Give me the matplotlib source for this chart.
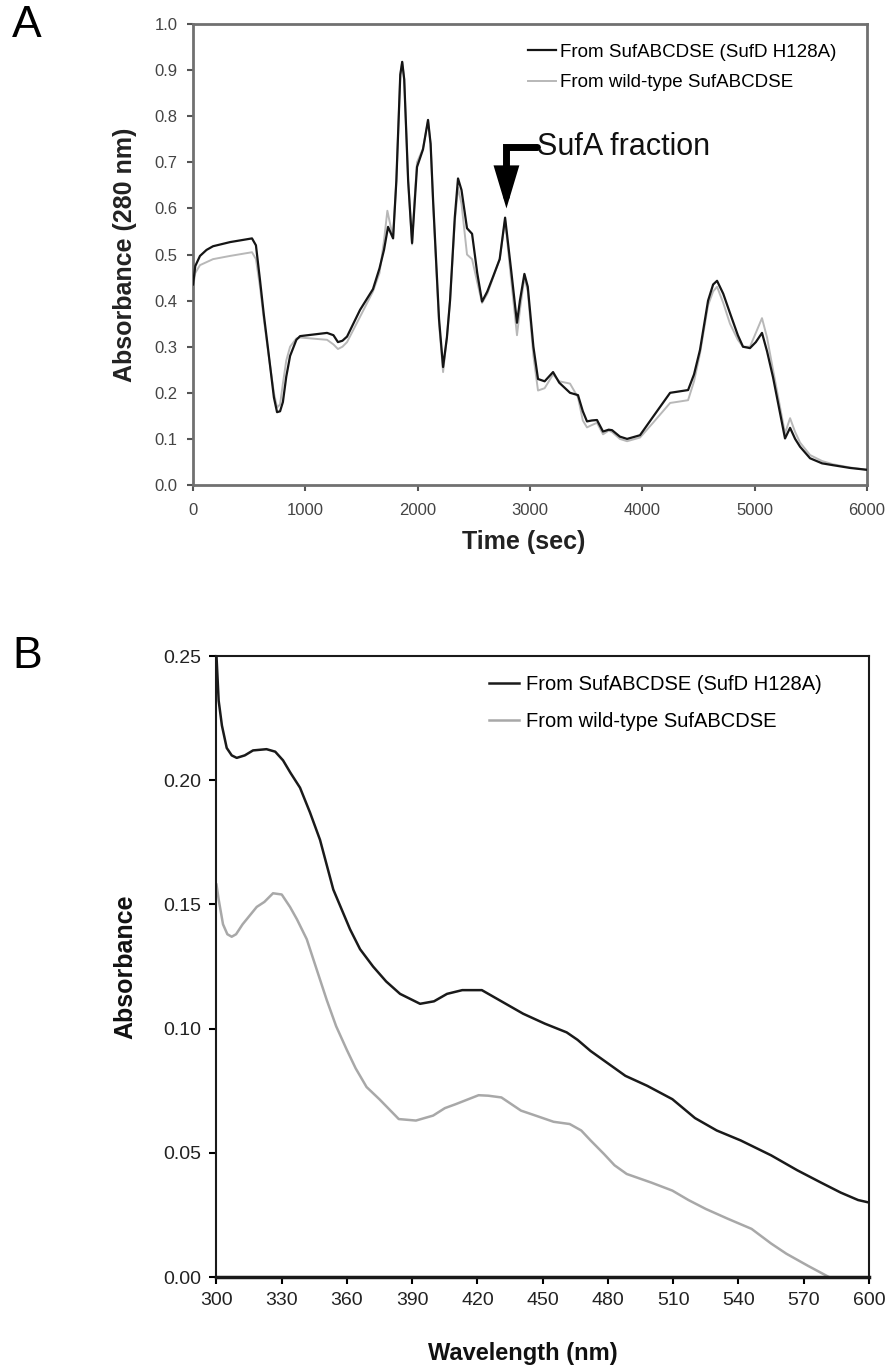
import matplotlib
matplotlib.use("Agg")
import matplotlib.pyplot as plt
from matplotlib.ticker import FormatStrFormatter

plt.rcParams['font.family'] = ['Liberation Sans', 'DejaVu Sans']

# panel A: elution profile, absorbance at 280 nm
time_mut = [0, 20, 62, 120, 178, 330, 525, 560, 596, 630, 668, 720, 748, 775, 800, 830, 864,
            920, 953, 1193, 1250, 1290, 1330, 1371, 1487, 1602, 1660, 1700, 1736, 1781, 1810,
            1845, 1862, 1880, 1915, 1950, 1975, 1994, 2047, 2092, 2115, 2137, 2190, 2226, 2260,
            2288, 2330, 2359, 2390, 2439, 2484, 2530, 2573, 2620, 2671, 2730, 2778, 2830, 2884,
            2910, 2950, 2980, 3030, 3071, 3130, 3205, 3260, 3356, 3427, 3470, 3507, 3550, 3596,
            3650, 3700, 3730, 3800, 3864, 3979, 4095, 4247, 4407, 4460, 4513, 4585, 4630, 4665,
            4720, 4780, 4850, 4896, 4958, 5010, 5065, 5110, 5163, 5270, 5315, 5360, 5404, 5493,
            5600, 5697, 5850, 6000]
abs_mut = [0.435, 0.475, 0.497, 0.51, 0.518, 0.527, 0.535, 0.52, 0.445, 0.37, 0.295, 0.19,
           0.158, 0.16, 0.18, 0.235, 0.28, 0.315, 0.323, 0.33, 0.325, 0.31, 0.313, 0.322, 0.38,
           0.425, 0.47, 0.51, 0.56, 0.535, 0.66, 0.89, 0.918, 0.88, 0.66, 0.525, 0.62, 0.69,
           0.728, 0.792, 0.74, 0.618, 0.36, 0.256, 0.32, 0.40, 0.58, 0.665, 0.64, 0.557, 0.545,
           0.46, 0.398, 0.42, 0.452, 0.49, 0.58, 0.47, 0.352, 0.4, 0.458, 0.43, 0.3, 0.23,
           0.225, 0.245, 0.222, 0.2, 0.195, 0.16, 0.138, 0.14, 0.141, 0.116, 0.12, 0.119, 0.105,
           0.10, 0.108, 0.148, 0.2, 0.206, 0.24, 0.293, 0.40, 0.435, 0.443, 0.415, 0.373, 0.325,
           0.30, 0.297, 0.31, 0.33, 0.29, 0.234, 0.101, 0.124, 0.1, 0.083, 0.058, 0.047, 0.043,
           0.037, 0.033]

time_wt = [0, 20, 62, 178, 330, 525, 560, 596, 630, 668, 720, 748, 775, 800, 830, 864, 920,
           953, 1193, 1250, 1290, 1330, 1371, 1487, 1602, 1660, 1700, 1730, 1760, 1781, 1810,
           1845, 1862, 1880, 1915, 1950, 1975, 1994, 2047, 2092, 2115, 2137, 2190, 2226, 2260,
           2288, 2330, 2359, 2390, 2439, 2484, 2530, 2573, 2620, 2671, 2730, 2778, 2830, 2884,
           2910, 2950, 2980, 3030, 3071, 3130, 3205, 3260, 3356, 3427, 3470, 3507, 3550, 3596,
           3650, 3700, 3730, 3800, 3864, 3979, 4095, 4247, 4407, 4460, 4513, 4585, 4630, 4665,
           4720, 4780, 4850, 4896, 4958, 5010, 5065, 5110, 5163, 5270, 5315, 5360, 5404, 5493,
           5600, 5697, 5850, 6000]
abs_wt = [0.43, 0.46, 0.477, 0.49, 0.497, 0.505, 0.49, 0.43, 0.36, 0.29, 0.2, 0.168, 0.175,
          0.22, 0.27, 0.30, 0.318, 0.32, 0.315, 0.305, 0.295, 0.3, 0.31, 0.365, 0.42, 0.46,
          0.53, 0.595, 0.56, 0.54, 0.66, 0.89, 0.918, 0.88, 0.66, 0.522, 0.63, 0.70, 0.73,
          0.79, 0.74, 0.61, 0.35, 0.245, 0.32, 0.40, 0.57, 0.645, 0.61, 0.50, 0.49, 0.44,
          0.395, 0.415, 0.45, 0.49, 0.575, 0.45, 0.325, 0.38, 0.45, 0.42, 0.28, 0.205, 0.21,
          0.24, 0.225, 0.22, 0.19, 0.14, 0.125, 0.13, 0.135, 0.11, 0.118, 0.115, 0.1, 0.095,
          0.103, 0.135, 0.178, 0.184, 0.225, 0.285, 0.39, 0.42, 0.43, 0.395, 0.35, 0.315,
          0.30, 0.30, 0.33, 0.362, 0.32, 0.25, 0.112, 0.145, 0.115, 0.092, 0.065, 0.052, 0.045,
          0.038, 0.033]

# panel B: UV-vis spectra
wl_mut = [300, 301, 302.5, 304.7, 307, 309.3, 313, 316.8, 323, 327, 330.6, 334, 338.4, 343,
          347.6, 353.7, 361.4, 366, 372, 378, 384.4, 393.6, 400, 406, 413, 422, 431, 441, 451,
          461, 466, 472, 480, 488, 498, 509.6, 520, 530, 541, 555, 567, 578, 587, 595, 600]
spec_mut = [0.25, 0.232, 0.222, 0.213, 0.21, 0.209, 0.21, 0.212, 0.2125, 0.2115, 0.208, 0.203,
            0.197, 0.187, 0.176, 0.156, 0.14, 0.132, 0.125, 0.119, 0.114, 0.110, 0.111, 0.114,
            0.1155, 0.1155, 0.111, 0.106, 0.102, 0.0985, 0.0955, 0.091, 0.086, 0.081, 0.077,
            0.0716, 0.064, 0.059, 0.055, 0.049, 0.043, 0.038, 0.034, 0.031, 0.030]

wl_wt = [300, 301, 303, 305, 307, 309, 312, 318.5, 322, 326, 330, 333.8, 337, 341.5, 346,
         350.7, 355, 359.9, 364, 369, 375, 383.8, 391.7, 399.6, 405, 410, 420.5, 425, 431, 440,
         446.7, 455, 462.4, 467.7, 472, 478.2, 483, 488.6, 500, 509.6, 517, 525, 535, 546, 555,
         562, 572, 581.6]
spec_wt = [0.158, 0.152, 0.142, 0.138, 0.137, 0.138, 0.142, 0.149, 0.151, 0.1545, 0.154, 0.149,
           0.144, 0.136, 0.124, 0.1115, 0.101, 0.0915, 0.084, 0.0765, 0.0715, 0.0636, 0.063,
           0.065, 0.068, 0.0696, 0.0732, 0.073, 0.0723, 0.067, 0.065, 0.0625, 0.0616, 0.059,
           0.055, 0.0495, 0.045, 0.0415, 0.038, 0.0348, 0.031, 0.0274, 0.0235, 0.0194, 0.0135,
           0.0094, 0.0045, 0.0]

label_mut = 'From SufABCDSE (SufD H128A)'
label_wt = 'From wild-type SufABCDSE'

fig = plt.figure(figsize=(8.92, 13.67), dpi=100)
ax_a = fig.add_axes([0.2164, 0.6452, 0.7556, 0.3372])
ax_b = fig.add_axes([0.2427, 0.0658, 0.7315, 0.4543])

# ---- panel A ----
ax_a.plot(time_wt, abs_wt, color='#b8b8b8', lw=1.4, label=label_wt, zorder=2)
ax_a.plot(time_mut, abs_mut, color='#151515', lw=1.6, label=label_mut, zorder=3)
ax_a.set_xlim(0, 6000)
ax_a.set_ylim(0, 1.0)
ax_a.set_xticks(range(0, 6001, 1000))
ax_a.set_yticks([i / 10 for i in range(11)])
ax_a.yaxis.set_major_formatter(FormatStrFormatter('%.1f'))
ax_a.tick_params(labelsize=12, labelcolor='#444444', color='#555555', direction='out',
                 length=4, width=1.5, pad=7)
ax_a.tick_params(axis='x', pad=9)
for s in ax_a.spines.values():
    s.set_color('#707070')
    s.set_linewidth(2.0)
ax_a.set_ylabel('Absorbance (280 nm)', fontsize=18, fontweight='bold', color='#222222')
ax_a.set_xlabel('Time (sec)', fontsize=18, fontweight='bold', color='#222222')
ax_a.yaxis.set_label_coords(-0.083, 0.5)
ax_a.xaxis.set_label_coords(0.49, -0.098)

h_a, l_a = ax_a.get_legend_handles_labels()
ax_a.legend(h_a[::-1], l_a[::-1], loc='upper left', bbox_to_anchor=(0.497, 0.958),
            frameon=False, fontsize=13.5, handlelength=1.5, handletextpad=0.2,
            labelspacing=0.72, borderpad=0, borderaxespad=0)

ax_a.annotate('SufA fraction', xy=(2790, 0.60), xytext=(3062, 0.733),
              fontsize=22, ha='left', va='center', color='#111111',
              arrowprops=dict(arrowstyle='-|>,head_length=0.9,head_width=0.27',
                              connectionstyle='angle,angleA=0,angleB=90,rad=0',
                              color='black', lw=5, shrinkA=0, shrinkB=0,
                              relpos=(0, 0.5), patchA=None, joinstyle='miter'))

fig.text(0.030, 0.981, 'A', fontsize=32, ha='center', va='center')

# ---- panel B ----
ax_b.plot(wl_wt, spec_wt, color='#a8a8a8', lw=1.8, label=label_wt, zorder=2)
ax_b.plot(wl_mut, spec_mut, color='#1a1a1a', lw=1.8, label=label_mut, zorder=3)
ax_b.set_xlim(300, 600)
ax_b.set_ylim(0, 0.25)
ax_b.set_xticks(range(300, 601, 30))
ax_b.set_yticks([0, 0.05, 0.10, 0.15, 0.20, 0.25])
ax_b.yaxis.set_major_formatter(FormatStrFormatter('%.2f'))
ax_b.tick_params(labelsize=14, labelcolor='#222222', direction='out', length=5, width=1.5, pad=6)
for s in ax_b.spines.values():
    s.set_color('#1a1a1a')
    s.set_linewidth(1.5)
ax_b.spines['bottom'].set_linewidth(2.5)
ax_b.set_ylabel('Absorbance', fontsize=18, fontweight='bold', color='#111111')
ax_b.set_xlabel('Wavelength (nm)', fontsize=17, fontweight='bold', color='#111111')
ax_b.yaxis.set_label_coords(-0.122, 0.5)
ax_b.xaxis.set_label_coords(0.47, -0.104)

h_b, l_b = ax_b.get_legend_handles_labels()
ax_b.legend(h_b[::-1], l_b[::-1], loc='upper left', bbox_to_anchor=(0.4176, 0.970),
            frameon=False, fontsize=14.5, handlelength=1.5, handletextpad=0.35,
            labelspacing=0.9, borderpad=0, borderaxespad=0)

fig.text(0.030, 0.520, 'B', fontsize=32, ha='center', va='center')

fig.savefig('out.png', dpi=100)
